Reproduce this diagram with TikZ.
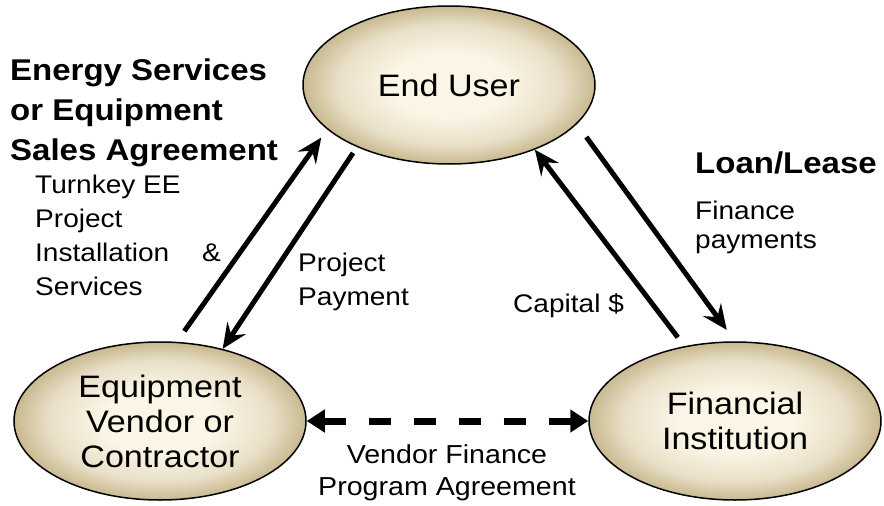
\documentclass[tikz,border=0pt]{standalone}
\usepackage{fontspec}
\setmainfont{Liberation Sans}[FakeStretch=1.1]
\usepackage{tikz}
\usetikzlibrary{arrows.meta}
\usetikzlibrary{shapes.geometric}
\definecolor{eggcenter}{RGB}{251,245,230}
\definecolor{eggrim}{RGB}{200,185,144}
\pgfdeclareradialshading{egg}{\pgfpoint{0bp}{0bp}}{color(0bp)=(eggcenter); color(10bp)=(eggcenter); color(19bp)=(eggcenter!65!eggrim); color(25bp)=(eggrim); color(50bp)=(eggrim)}
\newcommand{\party}[3]{\node(#1)[party] at (#2){#3}}
\newcommand{\flowtext}[3]{\node(#1)[flowlabel] at (#2){#3}}

\begin{document}
\begin{tikzpicture}[
        x=1pt, y=-1pt,
        party/.style={ellipse,draw=black,line width=1.5pt,shading=egg,
                      minimum width=292pt,minimum height=158pt,inner sep=0pt,
                      align=center,font=\fontsize{31}{35}\selectfont},
        % multi-line nodes sit on the baseline of their last line
        heading/.style={anchor=base west,inner sep=0pt,align=left,
                        font=\fontsize{30}{40}\selectfont\bfseries},
        flowlabel/.style={anchor=base west,inner sep=0pt,align=left,
                          font=\fontsize{25.5}{34}\selectfont},
        flow/.style={line width=5pt,-{Stealth[length=25pt,width=22pt,inset=9pt]}},
        deal/.style={line width=7pt,dash pattern=on 22pt off 23pt,
                     {Triangle[length=18pt,width=22pt]}-{Triangle[length=18pt,width=22pt]}}
      ]
      \useasboundingbox (0,0) rectangle (884,506);

      % the three parties
      \party{user}{449,85}{End User};
      \party{vendor}{160,421}{Equipment\\Vendor or\\Contractor};
      \party{finance}{735,421}{Financial\\Institution};

      % agreements
      \node(esa)[heading] at (10,160) {Energy Services\\or Equipment\\Sales Agreement};
      \node(loan)[heading] at (695,173) {Loan/Lease};

      % flows between the parties
      \draw[flow,shorten <=13pt,shorten >=10pt] (vendor.78) -- (user.200);
      \draw[flow,shorten <=7pt] (user.214) -- (vendor.49);
      \draw[flow,shorten <=11pt] (finance.124) -- (user.323);
      \draw[flow,shorten <=16pt,shorten >=14pt] (user.343) -- (finance.90);
      \draw[deal] (vendor.east) -- (finance.west);

      \flowtext{turnkey}{35,295}{Turnkey EE\\Project\\Installation\\Services};
      \flowtext{amp}{202,261}{\&};
      \flowtext{payment}{298,305}{Project\\Payment};
      \flowtext{capital}{513,312}{Capital \$};
      \node(finpay)[flowlabel,font=\fontsize{25.5}{29}\selectfont] at (695,248) {Finance\\payments};
      \node(program)[flowlabel,anchor=base,align=center,font=\fontsize{26}{32}\selectfont] at (447,495) {Vendor Finance\\Program Agreement};
    \end{tikzpicture}
\end{document}
